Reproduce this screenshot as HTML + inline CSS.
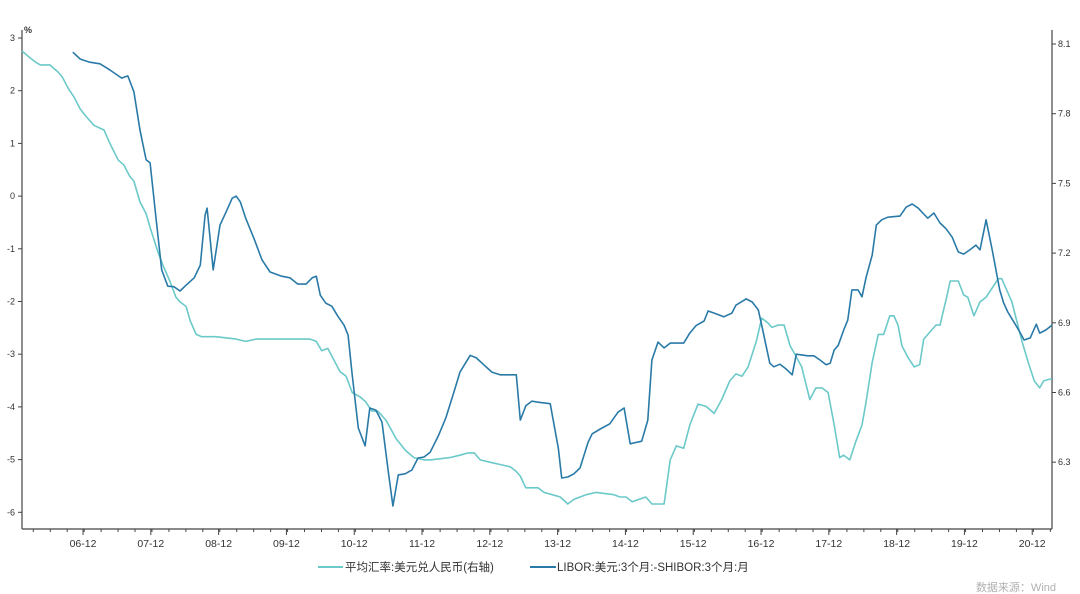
<!DOCTYPE html>
<html><head><meta charset="utf-8"><style>
body{margin:0;background:#fff;}
svg{display:block;font-family:"Liberation Sans","Noto Sans CJK SC",sans-serif;}
</style></head><body>
<svg id="chart" width="1080" height="594" xmlns="http://www.w3.org/2000/svg">
<g id="axes"></g>
<g id="series"></g>
<text x="24" y="33" font-size="9" font-weight="bold" fill="#333">%</text>
<g>
<line x1="318" y1="567" x2="343" y2="567" stroke="#6cc9c9" stroke-width="2"/>
<text x="345" y="571" font-size="11.5" fill="#333">平均汇率:美元兑人民币(右轴)</text>
<line x1="530" y1="567" x2="556" y2="567" stroke="#2a7aa8" stroke-width="2"/>
<text x="557" y="571" font-size="11.5" fill="#333">LIBOR:美元:3个月:-SHIBOR:3个月:月</text>
</g>
<text x="1056" y="591" font-size="11" fill="#b0b0b0" text-anchor="end">数据来源：Wind</text>
</svg>
<script>
const spreadT=[0.75,0.86,1.00,1.15,1.30,1.47,1.56,1.65,1.74,1.83,1.89,1.98,2.06,2.15,2.24,2.33,2.42,2.54,2.63,2.70,2.73,2.82,2.92,3.01,3.10,3.16,3.22,3.30,3.42,3.54,3.66,3.83,3.95,4.07,4.19,4.28,4.34,4.40,4.48,4.57,4.66,4.75,4.81,4.87,4.96,5.06,5.13,5.22,5.31,5.40,5.47,5.55,5.65,5.75,5.84,5.93,6.02,6.14,6.25,6.37,6.46,6.55,6.61,6.70,6.81,6.93,7.05,7.29,7.35,7.43,7.52,7.61,7.79,7.91,7.96,8.05,8.14,8.23,8.35,8.41,8.53,8.67,8.79,8.88,8.97,9.14,9.23,9.29,9.38,9.47,9.56,9.76,9.85,9.94,10.06,10.12,10.21,10.35,10.47,10.53,10.68,10.77,10.86,10.91,11.03,11.09,11.18,11.27,11.36,11.42,11.59,11.68,11.77,11.86,11.92,11.98,12.04,12.12,12.18,12.24,12.33,12.39,12.45,12.54,12.60,12.68,12.77,12.95,13.04,13.13,13.22,13.30,13.36,13.45,13.54,13.63,13.72,13.81,13.89,13.98,14.07,14.13,14.22,14.31,14.42,14.48,14.54,14.63,14.69,14.78,14.87,14.96,15.01,15.10,15.19];
const spreadV=[2.73,2.60,2.54,2.51,2.39,2.24,2.28,1.98,1.25,0.69,0.63,-0.45,-1.40,-1.71,-1.72,-1.80,-1.69,-1.55,-1.31,-0.36,-0.23,-1.40,-0.55,-0.30,-0.04,0.00,-0.11,-0.42,-0.80,-1.21,-1.44,-1.52,-1.55,-1.67,-1.67,-1.55,-1.52,-1.88,-2.03,-2.09,-2.28,-2.45,-2.64,-3.39,-4.40,-4.74,-4.02,-4.06,-4.29,-5.20,-5.88,-5.29,-5.27,-5.20,-4.97,-4.95,-4.86,-4.55,-4.21,-3.72,-3.34,-3.15,-3.02,-3.07,-3.20,-3.34,-3.39,-3.39,-4.25,-3.98,-3.89,-3.91,-3.94,-4.78,-5.35,-5.33,-5.27,-5.16,-4.67,-4.51,-4.42,-4.32,-4.10,-4.02,-4.70,-4.65,-4.25,-3.11,-2.77,-2.88,-2.79,-2.79,-2.60,-2.46,-2.37,-2.18,-2.22,-2.29,-2.22,-2.07,-1.95,-2.01,-2.16,-2.45,-3.17,-3.24,-3.19,-3.28,-3.39,-3.00,-3.03,-3.03,-3.11,-3.20,-3.17,-2.92,-2.83,-2.54,-2.35,-1.78,-1.78,-1.91,-1.54,-1.12,-0.55,-0.45,-0.40,-0.38,-0.21,-0.15,-0.23,-0.34,-0.42,-0.32,-0.51,-0.62,-0.78,-1.06,-1.10,-1.02,-0.93,-1.02,-0.45,-1.02,-1.78,-2.03,-2.20,-2.39,-2.52,-2.73,-2.69,-2.43,-2.60,-2.54,-2.45];
const fxT=[0.00,0.12,0.21,0.27,0.41,0.53,0.59,0.68,0.77,0.86,0.94,1.06,1.21,1.30,1.42,1.50,1.59,1.65,1.74,1.83,1.89,2.01,2.09,2.18,2.27,2.33,2.42,2.48,2.57,2.65,2.86,3.16,3.30,3.45,4.25,4.34,4.42,4.51,4.60,4.69,4.78,4.87,4.99,5.07,5.16,5.25,5.37,5.52,5.66,5.78,5.93,6.02,6.31,6.46,6.58,6.67,6.76,6.90,7.05,7.20,7.29,7.35,7.43,7.61,7.70,7.82,7.94,8.05,8.14,8.23,8.32,8.47,8.73,8.82,8.91,9.00,9.20,9.29,9.47,9.56,9.65,9.76,9.85,9.97,10.09,10.21,10.32,10.44,10.53,10.62,10.71,10.83,10.91,11.00,11.06,11.15,11.24,11.33,11.39,11.50,11.62,11.71,11.80,11.89,11.98,12.06,12.12,12.21,12.30,12.39,12.45,12.54,12.63,12.71,12.80,12.86,12.92,12.98,13.07,13.16,13.24,13.30,13.39,13.48,13.54,13.63,13.69,13.81,13.89,13.95,14.04,14.13,14.22,14.31,14.40,14.45,14.54,14.60,14.75,14.84,14.93,15.01,15.07,15.19];
const fxV=[8.07,8.04,8.02,8.01,8.01,7.98,7.96,7.91,7.87,7.82,7.79,7.75,7.73,7.67,7.60,7.58,7.53,7.51,7.42,7.37,7.31,7.20,7.14,7.08,7.01,6.99,6.97,6.91,6.85,6.84,6.84,6.83,6.82,6.83,6.83,6.82,6.78,6.79,6.74,6.69,6.67,6.60,6.58,6.56,6.52,6.52,6.48,6.40,6.35,6.32,6.31,6.31,6.32,6.33,6.34,6.34,6.31,6.30,6.29,6.28,6.26,6.24,6.19,6.19,6.17,6.16,6.15,6.12,6.14,6.15,6.16,6.17,6.16,6.15,6.15,6.13,6.15,6.12,6.12,6.31,6.37,6.36,6.46,6.55,6.54,6.51,6.57,6.65,6.68,6.67,6.71,6.82,6.92,6.90,6.88,6.89,6.89,6.80,6.77,6.71,6.57,6.62,6.62,6.60,6.46,6.32,6.33,6.31,6.39,6.46,6.56,6.73,6.85,6.85,6.93,6.93,6.89,6.80,6.75,6.71,6.72,6.83,6.86,6.89,6.89,7.00,7.08,7.08,7.02,7.01,6.93,6.99,7.01,7.05,7.09,7.09,7.03,6.99,6.82,6.73,6.65,6.62,6.65,6.66];
const leftTicks=[3,2,1,0,-1,-2,-3,-4,-5,-6];
const rightTicks=[8.1,7.8,7.5,7.2,6.9,6.6,6.3];
const xLabels=["06-12","07-12","08-12","09-12","10-12","11-12","12-12","13-12","14-12","15-12","16-12","17-12","18-12","19-12","20-12"];
const BASE=2006;
const X0=22,X1=1052,YB=529;
const xs=t=>X0+(t-BASE)*67.8;
const yL=v=>38+(3-v)*52.7;
const yR=v=>44+(8.1-v)/0.3*69.7;
const NS="http://www.w3.org/2000/svg";
const axes=document.getElementById('axes'),ser=document.getElementById('series');
function mk(tag,attrs,parent){const e=document.createElementNS(NS,tag);for(const k in attrs)e.setAttribute(k,attrs[k]);parent.appendChild(e);return e;}
let e=mk('line',{x1:X0,y1:30,x2:X0,y2:YB,stroke:'#444','stroke-width':1.2},axes);


e=mk('line',{x1:X1,y1:30,x2:X1,y2:YB,stroke:'#444','stroke-width':1.2},axes);


e=mk('line',{x1:X0,y1:YB,x2:X1,y2:YB,stroke:'#444','stroke-width':1.2},axes);


leftTicks.forEach(v=>{const y=yL(v);
 mk('line',{x1:X0-4,y1:y,x2:X0,y2:y,stroke:'#444'},axes);
 const t=mk('text',{x:X0-7,y:y+3,'font-size':9,fill:'#333','text-anchor':'end'},axes);t.textContent=v;
 
 });
rightTicks.forEach(v=>{const y=yR(v);
 mk('line',{x1:X1,y1:y,x2:X1+4,y2:y,stroke:'#444'},axes);
 const t=mk('text',{x:X1+6,y:y+3,'font-size':9,fill:'#333'},axes);t.textContent=v.toFixed(1);
 
 });
for(let q=0;q<61;q++){const t=BASE+0.167+q*0.25;const x=xs(t);if(x>X1)break;
 mk('line',{x1:x,y1:YB,x2:x,y2:YB+3,stroke:'#444'},axes);}
xLabels.forEach((l,i)=>{const x=xs(BASE+0.9+i);
 mk('line',{x1:x,y1:YB,x2:x,y2:YB+6,stroke:'#444'},axes);
 const t=mk('text',{x:x,y:YB+18,'font-size':10.5,fill:'#333','text-anchor':'middle'},axes);t.textContent=l;
 
 });
function path(T,V,fy,color,name){const d=T.map((t,i)=>(i?'L':'M')+xs(BASE+t).toFixed(1)+' '+fy(V[i]).toFixed(1)).join(' ');
 const p=mk('path',{d:d,fill:'none',stroke:color,'stroke-width':1.6,'stroke-linejoin':'round'},ser);
 
 }
path(fxT,fxV,yR,'#6cc9c9','fx-rate-line');
path(spreadT,spreadV,yL,'#2a7aa8','libor-shibor-spread-line');
</script>
</body></html>
